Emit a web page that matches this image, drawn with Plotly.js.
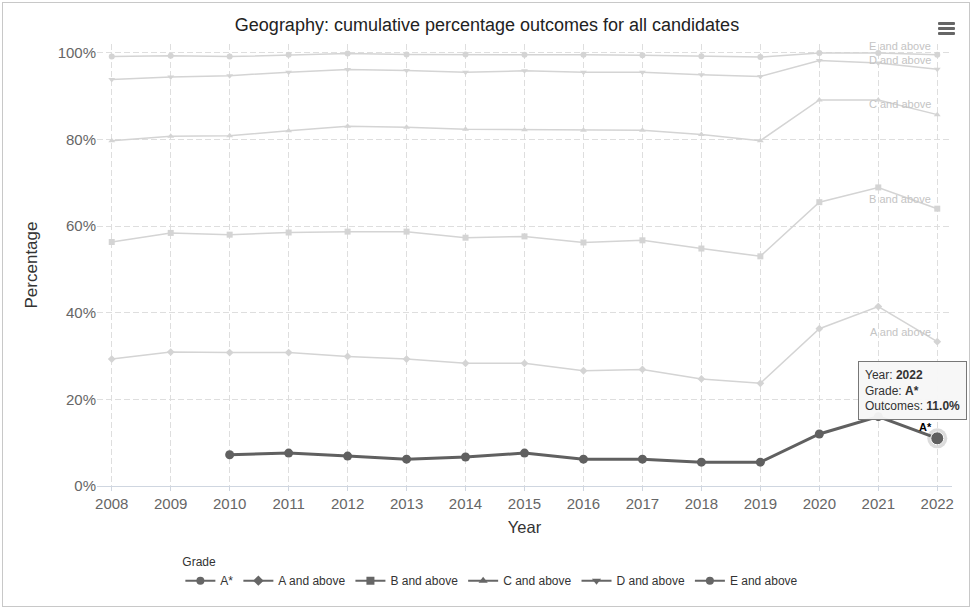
<!DOCTYPE html>
<html>
<head>
<meta charset="utf-8">
<script src="https://cdn.plot.ly/plotly-3.0.1.min.js"></script>
<style>
  html, body { margin: 0; padding: 0; background: #fff; }
  #wrap { position: relative; width: 974px; height: 609px; }
  #chart { position: absolute; left: 0; top: 0; width: 974px; height: 609px; }
  #frame { position: absolute; left: 2px; top: 2px; width: 966px; height: 603px; border: 1px solid #c8c8c8; pointer-events: none; }
  #menu { position: absolute; left: 938px; top: 22px; width: 17px; height: 13px; pointer-events: none; }
  #menu div { height: 3px; background: #666; margin-bottom: 2px; border-radius: 1px; }
</style>
</head>
<body>
<div id="wrap">
  <div id="chart"></div>
  <div id="frame"></div>
  <div id="menu"><div></div><div></div><div></div></div>
</div>
<script>
// ---- data ----
const years = [2008, 2009, 2010, 2011, 2012, 2013, 2014, 2015, 2016, 2017, 2018, 2019, 2020, 2021, 2022];
const aStar   = [null, null, 7.2, 7.6, 6.9, 6.2, 6.7, 7.6, 6.2, 6.2, 5.5, 5.5, 12.0, 16.0, 11.0];
const aAbove  = [29.3, 30.9, 30.8, 30.8, 29.9, 29.3, 28.3, 28.3, 26.6, 26.9, 24.7, 23.7, 36.3, 41.4, 33.3];
const bAbove  = [56.3, 58.4, 58.0, 58.5, 58.7, 58.7, 57.3, 57.6, 56.2, 56.7, 54.8, 53.0, 65.5, 68.9, 64.0];
const cAbove  = [79.7, 80.7, 80.8, 82.0, 83.0, 82.8, 82.3, 82.2, 82.1, 82.1, 81.1, 79.7, 89.1, 89.1, 85.7];
const dAbove  = [93.8, 94.4, 94.7, 95.5, 96.1, 95.9, 95.5, 95.8, 95.5, 95.5, 94.9, 94.5, 98.2, 97.6, 96.2];
const eAbove  = [99.1, 99.3, 99.1, 99.5, 99.8, 99.6, 99.6, 99.5, 99.5, 99.4, 99.2, 99.0, 99.9, 99.9, 99.5];
const gradeNames = ["A*", "A and above", "B and above", "C and above", "D and above", "E and above"];
const yTickVals = [0, 20, 40, 60, 80, 100];
const yTickText = ["0%", "20%", "40%", "60%", "80%", "100%"];

const FONT = "Liberation Sans, Arial, sans-serif";
const faded = "#d4d4d4";
const dark = "#606060";

const fadedSeries = [
  {name: gradeNames[1], y: aAbove, sym: "diamond", size: 6},
  {name: gradeNames[2], y: bAbove, sym: "square", size: 6},
  {name: gradeNames[3], y: cAbove, sym: "triangle-up", size: 6},
  {name: gradeNames[4], y: dAbove, sym: "triangle-down", size: 6},
  {name: gradeNames[5], y: eAbove, sym: "circle", size: 6}
];

const traces = [];
fadedSeries.forEach(s => {
  traces.push({
    x: years, y: s.y, type: "scatter", mode: "lines+markers", name: s.name,
    showlegend: false, hoverinfo: "skip",
    line: {color: faded, width: 1.5},
    marker: {symbol: s.sym, size: s.size, color: faded}
  });
});
// highlighted A* series
traces.push({
  x: years, y: aStar, type: "scatter", mode: "lines+markers", name: gradeNames[0],
  showlegend: false, hoverinfo: "skip", connectgaps: false,
  line: {color: dark, width: 3},
  marker: {symbol: "circle", size: 9, color: dark}
});
// hovered point halo
const li = years.length - 1;
traces.push({
  x: [years[li]], y: [aStar[li]], type: "scatter", mode: "markers", showlegend: false, hoverinfo: "skip",
  marker: {symbol: "circle", size: 20, color: "rgba(96,96,96,0.22)"}
});
traces.push({
  x: [years[li]], y: [aStar[li]], type: "scatter", mode: "markers", showlegend: false, hoverinfo: "skip",
  marker: {symbol: "circle", size: 13, color: dark, line: {color: "#fff", width: 1}}
});
// legend entries
const legendSyms = ["circle", "diamond", "square", "triangle-up", "triangle-down", "circle"];
gradeNames.forEach((n, i) => {
  traces.push({
    x: [null], y: [null], type: "scatter", mode: "lines+markers", name: n, showlegend: true,
    line: {color: "#666", width: 2},
    marker: {symbol: legendSyms[i], size: 8, color: "#666"}
  });
});

const labelFont = {family: FONT, size: 11, color: "#c4c4c4"};
const seriesLabels = [
  {text: gradeNames[5], x: 2021.37, y: 101.6},
  {text: gradeNames[4], x: 2021.37, y: 98.2},
  {text: gradeNames[3], x: 2021.37, y: 88.2},
  {text: gradeNames[2], x: 2021.37, y: 66.3},
  {text: gradeNames[1], x: 2021.37, y: 35.6}
];
const annotations = seriesLabels.map(l => ({
  x: l.x, y: l.y, xref: "x", yref: "y", text: l.text, showarrow: false, font: labelFont
}));
// data label for last A* point
annotations.push({
  x: years[li], y: aStar[li], xref: "x", yref: "y", text: "<b>" + gradeNames[0] + "</b>",
  showarrow: false, xshift: -12, yshift: 11, font: {family: FONT, size: 11, color: "#000"}
});
// tooltip
annotations.push({
  x: years[li], y: aStar[li], xref: "x", yref: "y",
  text: "Year: <b>" + years[li] + "</b><br>Grade: <b>" + gradeNames[0] + "</b><br>Outcomes: <b>" + aStar[li].toFixed(1) + "%</b>",
  showarrow: false, xanchor: "right", yanchor: "bottom", xshift: 30, yshift: 18,
  align: "left", bgcolor: "rgba(247,247,247,0.95)", bordercolor: "#777", borderwidth: 1, borderpad: 6,
  font: {family: FONT, size: 12, color: "#333"}
});

const layout = {
  width: 974, height: 609,
  margin: {l: 97, r: 22, t: 44, b: 123},
  paper_bgcolor: "#fff", plot_bgcolor: "#fff",
  font: {family: FONT, color: "#333"},
  title: {text: "Geography: cumulative percentage outcomes for all candidates",
          x: 0.5, xanchor: "center", y: 0.96, yanchor: "middle", yref: "container",
          font: {family: FONT, size: 18, color: "#222"}},
  xaxis: {
    range: [2007.75, 2022.25], tickmode: "array", tickvals: years, ticktext: years.map(String),
    showgrid: true, gridcolor: "#dedede", griddash: "6px,3px", gridwidth: 1,
    showline: true, linecolor: "#cfd6e0", linewidth: 1, zeroline: false,
    ticks: "outside", ticklen: 4, tickcolor: "#cfd6e0",
    tickfont: {family: FONT, size: 15, color: "#666"},
    title: {text: "Year", font: {family: FONT, size: 16.5, color: "#333"}, standoff: 10},
    automargin: false
  },
  yaxis: {
    range: [0, 102], tickmode: "array", tickvals: yTickVals, ticktext: yTickText,
    showgrid: true, gridcolor: "#dedede", griddash: "6px,3px", gridwidth: 1,
    showline: false, zeroline: false, ticks: "",
    tickfont: {family: FONT, size: 15, color: "#666"},
    title: {text: "Percentage", font: {family: FONT, size: 17, color: "#333"}, standoff: 15},
    automargin: false
  },
  legend: {
    orientation: "h", xref: "container", yref: "container", x: 0.505, xanchor: "center",
    y: 0.096, yanchor: "top",
    title: {text: "Grade", side: "top", font: {family: FONT, size: 12, color: "#333"}},
    font: {family: FONT, size: 12, color: "#333"},
    itemwidth: 30, tracegroupgap: 0
  },
  annotations: annotations,
  showlegend: true,
  hovermode: false
};

Plotly.newPlot("chart", traces, layout, {displayModeBar: false, staticPlot: true});
</script>
</body>
</html>
